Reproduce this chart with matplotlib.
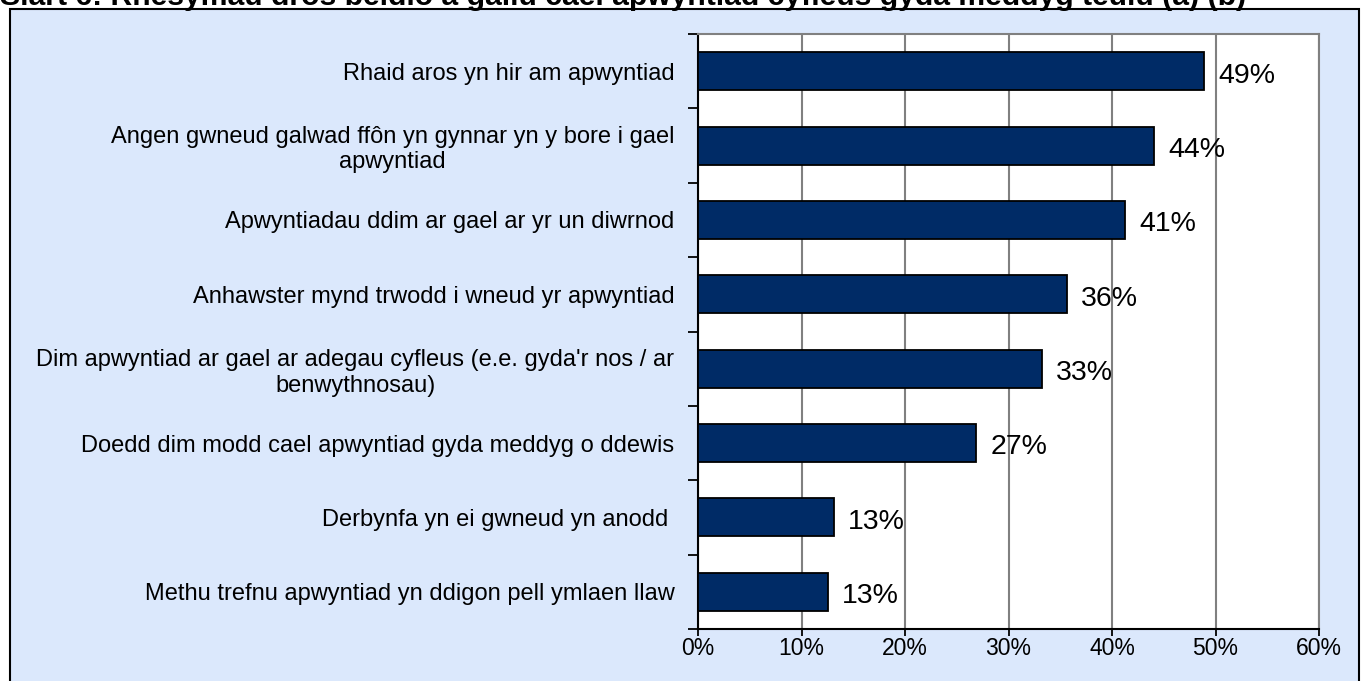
import numpy as np
import matplotlib
matplotlib.use("Agg")
import matplotlib.pyplot as plt
from matplotlib.patches import Rectangle

plt.rcParams['font.family'] = ['Liberation Sans', 'DejaVu Sans']

# Reasons (top to bottom) and share of respondents (%)
reasons = [
    "Rhaid aros yn hir am apwyntiad",
    "Angen gwneud galwad ffôn yn gynnar yn y bore i gael\napwyntiad",
    "Apwyntiadau ddim ar gael ar yr un diwrnod",
    "Anhawster mynd trwodd i wneud yr apwyntiad",
    "Dim apwyntiad ar gael ar adegau cyfleus (e.e. gyda'r nos / ar\nbenwythnosau)",
    "Doedd dim modd cael apwyntiad gyda meddyg o ddewis",
    "Derbynfa yn ei gwneud yn anodd ",
    "Methu trefnu apwyntiad yn ddigon pell ymlaen llaw",
]
values = [48.9, 44.1, 41.3, 35.7, 33.2, 26.9, 13.1, 12.6]
xticks = [0, 10, 20, 30, 40, 50, 60]
title = "Siart 6: Rhesymau dros beidio â gallu cael apwyntiad cyfleus gyda meddyg teulu (a) (b)"

W, H = 1363, 681
fig = plt.figure(figsize=(W / 100, H / 100), dpi=100)
fig.patch.set_facecolor("white")

# chart area box (runs off the bottom edge)
fig.patches.append(Rectangle((10 / W, -0.05), 1349 / W, 1.05 - 9 / H,
                             transform=fig.transFigure, facecolor="#dbe8fc",
                             edgecolor="black", linewidth=1.5, zorder=-1))

fig.text(0.0, 1 - 5 / H, title, fontsize=21.7, fontweight="bold",
         ha="left", va="baseline")

ax = fig.add_axes([698 / W, (H - 629) / H, 621 / W, 595 / H])
ax.set_zorder(1)
ax.set_facecolor("white")

y = np.arange(len(reasons))
ax.barh(y, values, height=0.51, color="#002b66", edgecolor="black",
        linewidth=1.3, zorder=3)

for yi, v in zip(y, values):
    ax.annotate(f"{v:.0f}%", (v, yi), xytext=(10, -1), textcoords="offset points",
                ha="left", va="center_baseline", fontsize=20.5, zorder=4)

ax.set_xlim(0, 60)
ax.set_ylim(len(reasons) - 0.5, -0.5)
ax.set_xticks(xticks)
ax.set_xticklabels([f"{t}%" for t in xticks], fontsize=16.5)
ax.tick_params(axis="x", length=5, width=1.3, direction="out", pad=1)

ax.set_yticks(y)
ax.set_yticklabels(reasons, fontsize=17, multialignment="center")
ax.set_yticks(np.arange(len(reasons) + 1) - 0.5, minor=True)
ax.tick_params(axis="y", which="major", length=0, pad=17)
ax.tick_params(axis="y", which="minor", length=7, width=1.3, direction="out")

ax.grid(axis="x", color="#808080", linewidth=1.5, zorder=1)
ax.set_axisbelow(True)
for side in ("top", "right"):
    ax.spines[side].set_color("#808080")
    ax.spines[side].set_linewidth(1.5)
for side in ("left", "bottom"):
    ax.spines[side].set_color("black")
    ax.spines[side].set_linewidth(1.5)

fig.savefig("out.png", dpi=100)
